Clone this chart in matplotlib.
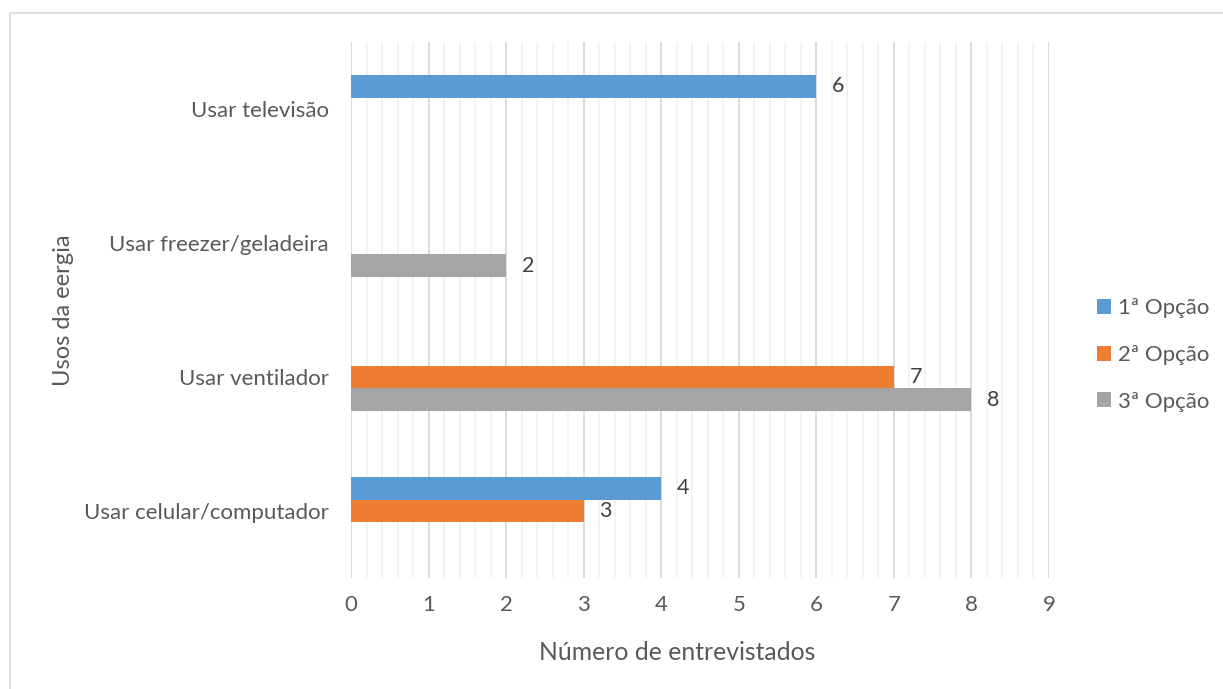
import matplotlib
matplotlib.use("Agg")
import matplotlib.pyplot as plt
from matplotlib.patches import Rectangle
from matplotlib.ticker import MultipleLocator
import numpy as np

categories = ["Usar celular/computador", "Usar ventilador", "Usar freezer/geladeira", "Usar televisão"]
series_names = ["1ª Opção", "2ª Opção", "3ª Opção"]
op1 = [4, 0, 0, 6]
op2 = [3, 7, 0, 0]
op3 = [0, 8, 2, 0]
colors = ["#5B9BD5", "#ED7D31", "#A5A5A5"]

plt.rcParams['font.family'] = ['Lato', 'DejaVu Sans']
txt = "#595959"

fig = plt.figure(figsize=(12.23, 6.89), dpi=100)
fig.patches.append(Rectangle((10/1223, -0.1), 1.2, 1 - 13/689 + 0.1, transform=fig.transFigure,
                             fill=False, edgecolor="#D9D9D9", linewidth=1.2))
ax = fig.add_axes([351/1223, 1 - 578/689, 698/1223, 536/689])

y = np.arange(len(categories))
h = 0.168
for i, (vals, name, c) in enumerate(zip([op1, op2, op3], series_names, colors)):
    off = (1 - i) * h
    ax.barh(y + off, vals, height=h, color=c, label=name, zorder=3)
    for yy, v in zip(y + off, vals):
        if v:
            ax.text(v + 0.2, yy, str(v), va="center", ha="left", fontsize=15.5, color="#404040")

ax.set_xlim(0, 9)
ax.set_ylim(-0.5, 3.5)
ax.xaxis.set_major_locator(MultipleLocator(1))
ax.xaxis.set_minor_locator(MultipleLocator(0.2))
ax.grid(which="major", axis="x", color="#D9D9D9", linewidth=1.3, zorder=0)
ax.grid(which="minor", axis="x", color="#F2F2F2", linewidth=1.3, zorder=0)
ax.set_yticks(y)
ax.set_yticklabels(categories)
for s in ax.spines.values():
    s.set_visible(False)
ax.tick_params(axis="both", which="both", length=0, colors=txt, labelsize=16)
ax.tick_params(axis="x", pad=12)
ax.tick_params(axis="y", pad=16)
fig.text(677/1223, 1 - 653/689, "Número de entrevistados", fontsize=17.8, color=txt,
         ha="center", va="center")
fig.text(63/1223, 1 - 310/689, "Usos da eergia", rotation=90, fontsize=17, color=txt,
         ha="center", va="center")

fig.legend(loc="center left", bbox_to_anchor=(1097/1223, 1 - 355/689), frameon=False,
           fontsize=16, labelcolor=txt, handlelength=0.65, handleheight=0.65,
           handletextpad=0.3, labelspacing=1.2, borderpad=0, borderaxespad=0)

fig.savefig("out.png", dpi=100)
